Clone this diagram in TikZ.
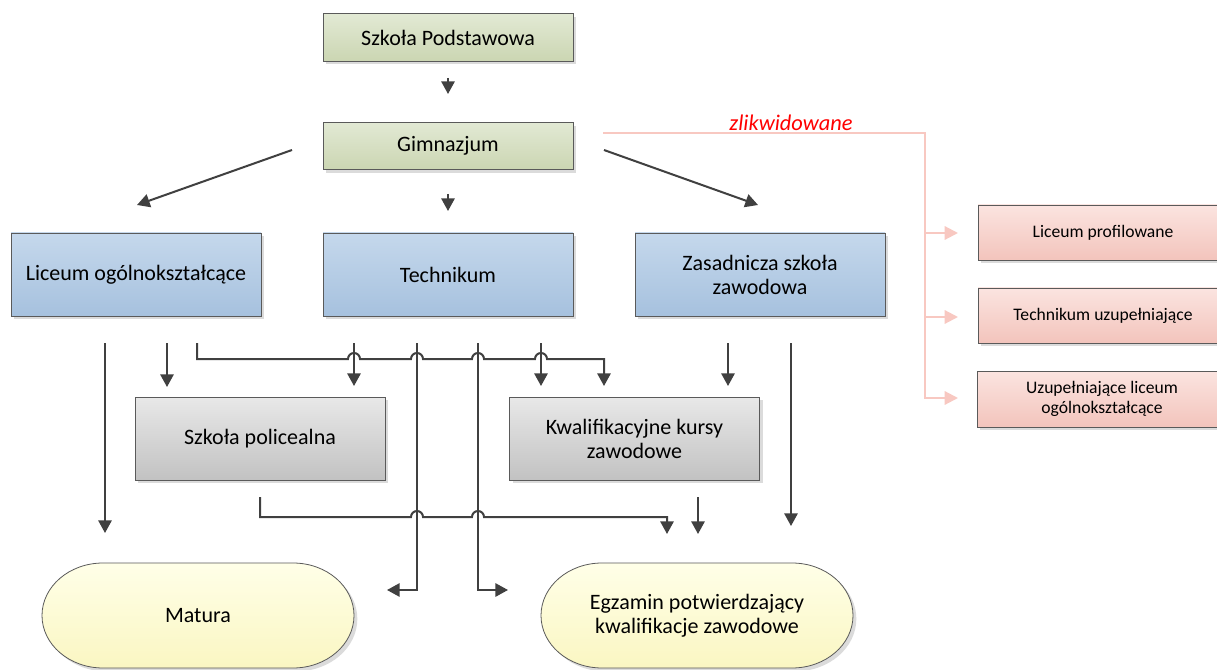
\documentclass[tikz,border=0pt]{standalone}
\usepackage{fontspec}
\setmainfont{Carlito}
\usetikzlibrary{arrows.meta,shadows,calc}
\definecolor{gT}{HTML}{E2E9D4}
\definecolor{gB}{HTML}{CBD6B2}
\definecolor{bT}{HTML}{C5D8EC}
\definecolor{bB}{HTML}{A6C1DE}
\definecolor{sT}{HTML}{E8E8E8}
\definecolor{sB}{HTML}{C2C2C2}
\definecolor{pT}{HTML}{FBE4E0}
\definecolor{pB}{HTML}{F3C4BC}
\definecolor{yT}{HTML}{FFFFE8}
\definecolor{yB}{HTML}{FAF6C2}
\definecolor{agray}{HTML}{404040}
\definecolor{pline}{HTML}{F8C8C1}
\definecolor{bord}{HTML}{5A5A5A}
\newcommand\stadshape[2]{%
  \path[yshape] ($(#1,#2)+(-95,-52.5)$) -- ($(#1,#2)+(95,-52.5)$)
    arc[start angle=90,end angle=-90,x radius=45.75pt,y radius=39.375pt]
    -- ($(#1,#2)+(-95,52.5)$)
    arc[start angle=270,end angle=90,x radius=45.75pt,y radius=39.375pt] -- cycle;}
\begin{document}
\begin{tikzpicture}[x=0.75pt,y=-0.75pt,
  font=\fontsize{16.5pt}{18pt}\selectfont,
  sh/.style={drop shadow={shadow xshift=2.5pt,shadow yshift=-2.5pt,fill=black!14,opacity=1}},
  box/.style={sh,draw=bord,line width=0.6pt,minimum width=187.5pt,align=center,inner sep=0pt},
  gbox/.style={box,top color=gT,bottom color=gB,minimum height=35.5pt},
  bbox/.style={box,top color=bT,bottom color=bB,minimum height=62.25pt},
  sbox/.style={box,top color=sT,bottom color=sB,minimum height=62.25pt},
  pbox/.style={box,top color=pT,bottom color=pB,minimum height=41.25pt,
    font=\fontsize{13.2pt}{15pt}\selectfont},
  yshape/.style={sh,draw=bord,line width=0.6pt,top color=yT,bottom color=yB},
  ytext/.style={align=center,inner sep=0pt,minimum width=234pt,minimum height=78.75pt},
  conn/.style={draw=agray,line width=1.5pt,-{Triangle[length=9.5pt,width=10pt]}},
  pconn/.style={draw=pline,line width=1.6pt,-{Triangle[length=10pt,width=10pt]}},
]
\clip (0,0) rectangle (1217,670);
\fill[white] (0,0) rectangle (1217,670);

% boxes
\node[gbox] (sp) at (448,37.5) {Szkoła Podstawowa};
\node[gbox] (gim) at (448,146) {Gimnazjum};
\node[bbox] (lo) at (136,274.5) {Liceum ogólnokształcące};
\node[bbox] (tech) at (448,274.5) {Technikum};
\node[bbox] (zsz) at (760,274.5) {Zasadnicza szkoła\\zawodowa};
\node[sbox] (pol) at (260,438.5) {Szkoła policealna};
\node[sbox] (kkz) at (634.5,438.5) {Kwalifikacyjne kursy\\zawodowe};
\node[pbox] (lp) at (1103,232.5) {Liceum profilowane};
\node[pbox] (tu) at (1103,315.5) {Technikum uzupełniające};
\node[pbox,minimum height=42pt] (ulo) at (1102,399) {Uzupełniające liceum\\ogólnokształcące};

\stadshape{198}{615.5}
\node[ytext] (mat) at (198,615.5) {Matura};
\stadshape{697}{615.5}
\node[ytext] (egz) at (697,615.5) {Egzamin potwierdzający\\kwalifikacje zawodowe};

% connector end points
\coordinate (a1) at (448,78);   \coordinate (a2) at (448,94);
\coordinate (b1) at (448,194);  \coordinate (b2) at (448,211);
\coordinate (c1) at (292,150);  \coordinate (c2) at (137,205);
\coordinate (d1) at (604,150);  \coordinate (d2) at (758,205);

\draw[conn] (a1) -- (a2);
\draw[conn] (b1) -- (b2);
\draw[conn] (c1) -- (c2);
\draw[conn] (d1) -- (d2);

% from Liceum
\coordinate (l1) at (105,343); \coordinate (l1e) at (105,533);
\coordinate (l2) at (167,343); \coordinate (l2e) at (167,387);
\coordinate (l3) at (197,343); \coordinate (l3e) at (604,386);
\draw[conn] (l1) -- (l1e);
\draw[conn] (l2) -- (l2e);
% from Technikum
\coordinate (t1) at (354,343); \coordinate (t1e) at (354,386);
\coordinate (t2) at (417,343); \coordinate (t2e) at (387,590);
\coordinate (t3) at (478,343); \coordinate (t3e) at (508,590);
\coordinate (t4) at (541,343); \coordinate (t4e) at (541,386);
\draw[conn] (t1) -- (t1e);
\draw[conn] (t2) |- (t2e);
\draw[conn] (t3) |- (t3e);
\draw[conn] (t4) -- (t4e);
% from ZSZ
\coordinate (z1) at (728,343); \coordinate (z1e) at (728,386);
\coordinate (z2) at (791,343); \coordinate (z2e) at (791,526);
\draw[conn] (z1) -- (z1e);
\draw[conn] (z2) -- (z2e);
% Liceum line with hops
\draw[conn] (l3) -- (197,359) -- (348,359)
  arc[start angle=180,end angle=0,radius=4.5pt] -- (411,359)
  arc[start angle=180,end angle=0,radius=4.5pt] -- (472,359)
  arc[start angle=180,end angle=0,radius=4.5pt] -- (535,359)
  arc[start angle=180,end angle=0,radius=4.5pt] -- (604,359) -- (l3e);
% from policealna
\coordinate (p1) at (260,497); \coordinate (p1e) at (667,534);
\draw[conn] (p1) -- (260,517) -- (411,517)
  arc[start angle=180,end angle=0,radius=4.5pt] -- (472,517)
  arc[start angle=180,end angle=0,radius=4.5pt] -- (667,517) -- (p1e);
% from kursy
\coordinate (k1) at (698,497); \coordinate (k1e) at (698,534);
\draw[conn] (k1) -- (k1e);

% zlikwidowane
\coordinate (g1) at (603,133);
\coordinate (gv) at (925,133);
\coordinate (e1) at (958,233);
\coordinate (e2) at (958,317);
\coordinate (e3) at (958,398);
\draw[pconn] (g1) -- (gv) |- (e3);
\draw[pconn] (925,233) -- (e1);
\draw[pconn] (925,317) -- (e2);
\node[text=red,font=\fontsize{16.8pt}{18pt}\selectfont\itshape] (zl) at (791,123) {zlikwidowane};
\end{tikzpicture}
\end{document}
